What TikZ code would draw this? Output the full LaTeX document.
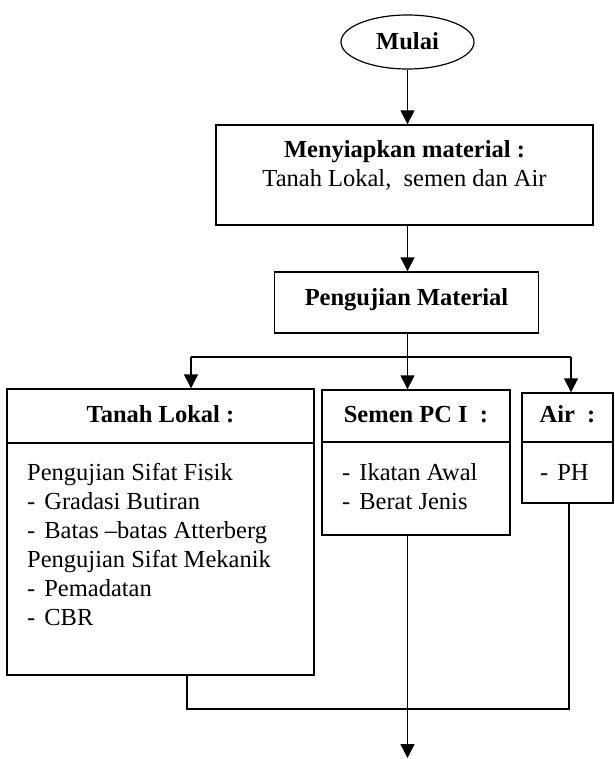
\documentclass[tikz,border=0pt]{standalone}
\usepackage{fontspec}
\setmainfont{Liberation Serif}
\usetikzlibrary{arrows.meta,shapes.geometric}
\begin{document}
\begin{tikzpicture}[x=1pt,y=-1pt,
  bx/.style={draw, line width=1.4pt, rectangle, inner sep=0pt},
  oval/.style={draw, line width=1.2pt, ellipse, inner sep=0pt},
  txt/.style={inner sep=0pt, font=\fontsize{24.5}{29}\selectfont},
  btxt/.style={inner sep=0pt, font=\fontsize{24.5}{29}\selectfont\bfseries},
  conn/.style={line width=1.4pt},
  arr/.style={conn, -{Triangle[length=14pt,width=14pt]}}]
\useasboundingbox (0,0) rectangle (614,759);
% shapes
\node[oval, minimum width=133pt, minimum height=54pt] (mulai) at (407.5,42) {};
\node[btxt, anchor=base] (mulait) at (407.5,50) {Mulai};
\node[bx, minimum width=377pt, minimum height=100pt] (siap) at (404.5,175) {};
\node[btxt, anchor=base] (siap1) at (404.5,158) {Menyiapkan material :};
\node[txt, anchor=base] (siap2) at (404.5,187) {Tanah Lokal,~ semen dan Air};
\node[bx, minimum width=264pt, minimum height=61pt] (uji) at (406.5,302.5) {};
\node[btxt, anchor=base] (ujit) at (406.5,305) {Pengujian Material};
\node[bx, minimum width=307pt, minimum height=286pt] (tanah) at (160.5,532) {};
\node[bx, minimum width=188pt, minimum height=145pt] (semen) at (416,462.5) {};
\node[bx, minimum width=91pt, minimum height=110pt] (air) at (567.5,448) {};
% dividers
\draw[conn] (tanah.west |- 0,443) -- (tanah.east |- 0,443);
\draw[conn] (semen.west |- 0,442) -- (semen.east |- 0,442);
\draw[conn] (air.west |- 0,442) -- (air.east |- 0,442);
% headers
\node[btxt, anchor=base] (tanahh) at (160.5,422) {Tanah Lokal :};
\node[btxt, anchor=base] (semenh) at (416,422) {Semen PC I~ :};
\node[btxt, anchor=base] (airh) at (567.5,422) {Air~ :};
% contents
\node[txt, anchor=base west] (t1) at (27,480) {Pengujian Sifat Fisik};
\node[txt, anchor=base west] (t2) at (27,509) {-\hspace{9pt}Gradasi Butiran};
\node[txt, anchor=base west] (t3) at (27,538) {-\hspace{9pt}Batas --batas Atterberg};
\node[txt, anchor=base west] (t4) at (27,567) {Pengujian Sifat Mekanik};
\node[txt, anchor=base west] (t5) at (27,596) {-\hspace{9pt}Pemadatan};
\node[txt, anchor=base west] (t6) at (27,625) {-\hspace{9pt}CBR};
\node[txt, anchor=base west] (s1) at (342,480) {-\hspace{9pt}Ikatan Awal};
\node[txt, anchor=base west] (s2) at (342,509) {-\hspace{9pt}Berat Jenis};
\node[txt, anchor=base west] (a1) at (540,480) {-\hspace{9pt}PH};
% coordinates
\coordinate (c) at (407.5,0);
\coordinate (j) at (407.5,357);
\coordinate (jl) at (191,357);
\coordinate (jr) at (571,357);
\coordinate (bl) at (187,709);
\coordinate (br) at (569,709);
\coordinate (fin) at (407.5,758);
% connectors
\draw[arr] (mulai.south) -- (c |- siap.north);
\draw[arr] (c |- siap.south) -- (c |- uji.north);
\draw[conn] (c |- uji.south) -- (j);
\draw[conn] (jl) -- (jr);
\draw[arr] (jl) -- (jl |- tanah.north);
\draw[arr] (j) -- (j |- semen.north);
\draw[arr] (jr) -- (jr |- air.north);
\draw[conn] (bl |- tanah.south) -- (bl) -- (br) -- (br |- air.south);
\draw[arr] (c |- semen.south) -- (fin);
\end{tikzpicture}
\end{document}
